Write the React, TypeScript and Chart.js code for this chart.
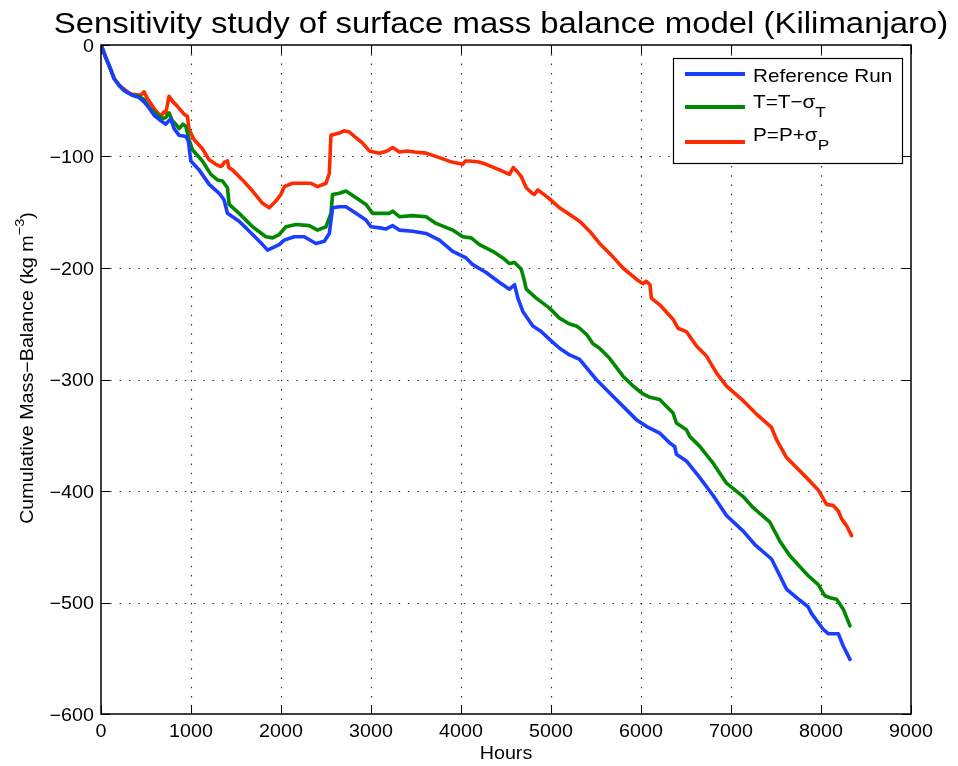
import React, { useEffect, useRef } from 'react';
import { Chart, registerables } from 'chart.js';

Chart.register(...registerables);

// ---------- data ----------
const xTicks = [0, 1000, 2000, 3000, 4000, 5000, 6000, 7000, 8000, 9000];
const yTicks = [0, -100, -200, -300, -400, -500, -600];

const chartTitle = 'Sensitivity study of surface mass balance model (Kilimanjaro)';
const xTitle = 'Hours';
const yTitleMain = 'Cumulative Mass\u2212Balance (kg m';
const yTitleSup = '\u22123';
const yTitleEnd = ')';

const seriesNames = ['Reference Run', 'T=T\u2212\u03c3', 'P=P+\u03c3'];
const seriesSubs = ['', 'T', 'P'];
const seriesColors = ['#1a3dff', '#008800', '#ff2b00'];

const refHours = [0, 52, 108, 145, 200, 260, 348, 420, 478, 530, 590, 650, 720, 775, 812, 868, 942, 970, 998, 1090, 1202, 1313, 1368, 1405, 1535, 1684, 1795, 1851, 1980, 2036, 2147, 2258, 2388, 2481, 2537, 2573, 2648, 2722, 2833, 2944, 3000, 3100, 3167, 3241, 3315, 3463, 3612, 3760, 3908, 4057, 4131, 4279, 4428, 4539, 4595, 4632, 4687, 4798, 4891, 4984, 5095, 5207, 5318, 5503, 5688, 5837, 5948, 6059, 6208, 6319, 6374, 6393, 6504, 6653, 6801, 6950, 7135, 7265, 7450, 7506, 7617, 7765, 7858, 7895, 8024, 8080, 8192, 8247, 8322];
const refValues = [0, -11, -22, -30, -36, -41, -45, -47, -51, -56, -63, -67, -71, -66, -75, -81, -82, -86, -104, -112, -125, -133, -139, -151, -158, -170, -179, -184, -179, -175, -172, -172, -178, -176, -169, -146, -145, -145, -151, -157, -163, -164, -165, -162, -166, -167, -169, -175, -185, -191, -197, -204, -213, -219, -215, -227, -239, -252, -257, -264, -272, -278, -282, -300, -315, -327, -336, -342, -348, -357, -360, -367, -373, -388, -404, -422, -436, -448, -461, -470, -488, -498, -504, -510, -524, -528, -528, -539, -551];

const tHours = [0, 52, 108, 145, 200, 260, 348, 420, 478, 534, 600, 682, 720, 756, 793, 830, 868, 910, 942, 979, 1016, 1127, 1220, 1294, 1350, 1405, 1424, 1535, 1684, 1832, 1906, 1980, 2055, 2166, 2314, 2406, 2500, 2555, 2573, 2648, 2722, 2833, 2944, 3018, 3204, 3241, 3315, 3460, 3612, 3723, 3908, 4019, 4113, 4205, 4353, 4465, 4539, 4595, 4669, 4700, 4725, 4836, 4984, 5095, 5200, 5281, 5318, 5400, 5466, 5540, 5651, 5800, 5900, 6022, 6100, 6208, 6356, 6393, 6504, 6541, 6653, 6801, 6950, 7135, 7246, 7432, 7543, 7654, 7858, 7969, 8043, 8110, 8173, 8247, 8322];
const tValues = [0, -11, -22, -30, -36, -41, -45, -46, -49, -56, -61, -66, -65, -61, -68, -71, -75, -71, -73, -85, -94, -104, -116, -121, -122, -128, -143, -151, -163, -172, -173, -170, -163, -161, -162, -166, -163, -151, -134, -133, -131, -137, -143, -151, -151, -149, -154, -153, -154, -160, -166, -172, -173, -179, -185, -191, -196, -195, -201, -210, -219, -227, -236, -245, -250, -252, -254, -260, -268, -272, -281, -297, -305, -313, -316, -318, -330, -339, -345, -351, -360, -375, -393, -405, -415, -428, -445, -458, -476, -484, -494, -496, -497, -506, -521];

const pHours = [0, 52, 108, 145, 200, 330, 442, 478, 515, 590, 664, 700, 720, 756, 800, 849, 923, 960, 979, 1035, 1127, 1202, 1276, 1330, 1350, 1370, 1405, 1420, 1461, 1572, 1684, 1795, 1869, 1943, 1999, 2036, 2128, 2239, 2333, 2406, 2500, 2537, 2555, 2648, 2700, 2760, 2815, 2907, 2982, 3093, 3180, 3241, 3315, 3400, 3482, 3612, 3760, 3900, 4019, 4050, 4094, 4200, 4279, 4428, 4539, 4580, 4620, 4669, 4725, 4790, 4817, 4854, 4920, 4984, 5095, 5207, 5318, 5429, 5540, 5688, 5800, 5948, 6020, 6059, 6100, 6115, 6208, 6356, 6411, 6504, 6616, 6727, 6838, 6950, 7135, 7283, 7450, 7506, 7617, 7839, 7969, 8062, 8136, 8192, 8229, 8284, 8340];
const pValues = [0, -11, -22, -30, -36, -44, -45, -42, -48, -57, -64, -60, -61, -46, -51, -55, -62, -64, -76, -85, -93, -103, -107, -109, -108, -105, -104, -110, -112, -121, -131, -142, -146, -140, -134, -127, -124, -124, -124, -127, -124, -115, -81, -79, -77, -78, -82, -88, -95, -97, -95, -92, -96, -95, -96, -97, -101, -105, -107, -104, -104, -105, -107, -112, -116, -110, -113, -118, -128, -133, -134, -130, -134, -138, -146, -152, -158, -167, -178, -190, -200, -210, -214, -212, -215, -227, -233, -246, -254, -257, -270, -279, -294, -306, -319, -331, -343, -354, -370, -388, -399, -412, -413, -418, -425, -431, -440];

// ---------- helpers ----------
const FONT = '"Liberation Sans", Arial, Helvetica, sans-serif';
const SX = 1.12;
const TEXT_SIZE = 17.6;

type Seg = { t: string; size: number; dy: number };

function richWidth(ctx: CanvasRenderingContext2D, segs: Seg[]) {
  let w = 0;
  for (const s of segs) {
    ctx.font = `${s.size}px ${FONT}`;
    w += ctx.measureText(s.t).width * SX;
  }
  return w;
}

function drawRich(ctx: CanvasRenderingContext2D, segs: Seg[], x: number, y: number, align: 'left' | 'center' | 'right') {
  const w = richWidth(ctx, segs);
  let cx = align === 'center' ? x - w / 2 : align === 'right' ? x - w : x;
  ctx.textAlign = 'left';
  ctx.textBaseline = 'alphabetic';
  ctx.fillStyle = '#000';
  for (const s of segs) {
    ctx.font = `${s.size}px ${FONT}`;
    const sw = ctx.measureText(s.t).width * SX;
    ctx.save();
    ctx.translate(cx, y + s.dy);
    ctx.scale(SX, 1);
    ctx.fillText(s.t, 0, 0);
    ctx.restore();
    cx += sw;
  }
}

function fmtTick(v: number) {
  return v < 0 ? '\u2212' + Math.abs(v) : String(v);
}

const decorPlugin = {
  id: 'matlabDecor',
  beforeDatasetsDraw(chart: any) {
    const { ctx, chartArea: a, scales } = chart;
    ctx.save();
    ctx.strokeStyle = 'rgba(0,0,0,0.8)';
    ctx.lineWidth = 1.2;
    ctx.setLineDash([1.5, 7.8]);
    for (const v of xTicks) {
      if (v === xTicks[0] || v === xTicks[xTicks.length - 1]) continue;
      const px = Math.round(scales.x.getPixelForValue(v)) + 0.5;
      ctx.beginPath();
      ctx.moveTo(px, a.top);
      ctx.lineTo(px, a.bottom);
      ctx.stroke();
    }
    for (const v of yTicks) {
      if (v === yTicks[0] || v === yTicks[yTicks.length - 1]) continue;
      const py = Math.round(scales.y.getPixelForValue(v)) + 0.5;
      ctx.beginPath();
      ctx.moveTo(a.left, py);
      ctx.lineTo(a.right, py);
      ctx.stroke();
    }
    ctx.restore();
  },
  afterDatasetsDraw(chart: any) {
    const { ctx, chartArea: a, scales } = chart;
    ctx.save();
    ctx.setLineDash([]);
    ctx.strokeStyle = '#000';
    ctx.lineWidth = 1.5;
    ctx.strokeRect(a.left, a.top, a.right - a.left, a.bottom - a.top);
    const tl = 9;
    ctx.lineWidth = 1;
    for (const v of xTicks) {
      const px = Math.round(scales.x.getPixelForValue(v)) + 0.5;
      ctx.beginPath();
      ctx.moveTo(px, a.bottom);
      ctx.lineTo(px, a.bottom - tl);
      ctx.moveTo(px, a.top);
      ctx.lineTo(px, a.top + tl);
      ctx.stroke();
    }
    for (const v of yTicks) {
      const py = Math.round(scales.y.getPixelForValue(v)) + 0.5;
      ctx.beginPath();
      ctx.moveTo(a.left, py);
      ctx.lineTo(a.left + tl, py);
      ctx.moveTo(a.right, py);
      ctx.lineTo(a.right - tl, py);
      ctx.stroke();
    }
    ctx.restore();
  },
  afterDraw(chart: any) {
    const { ctx, chartArea: a, scales } = chart;
    ctx.save();
    // tick labels
    for (const v of xTicks) {
      const px = scales.x.getPixelForValue(v);
      drawRich(ctx, [{ t: fmtTick(v), size: TEXT_SIZE, dy: 0 }], px, a.bottom + 23, 'center');
    }
    for (const v of yTicks) {
      const py = scales.y.getPixelForValue(v);
      drawRich(ctx, [{ t: fmtTick(v), size: TEXT_SIZE, dy: 0 }], a.left - 7, py + 6.5, 'right');
    }
    // title
    drawRich(ctx, [{ t: chartTitle, size: 29.4, dy: 0 }], 501, 33, 'center');
    // x title
    drawRich(ctx, [{ t: xTitle, size: TEXT_SIZE, dy: 0 }], (a.left + a.right) / 2, 759, 'center');
    // y title
    ctx.save();
    ctx.translate(33, 368);
    ctx.rotate(-Math.PI / 2);
    drawRich(
      ctx,
      [
        { t: yTitleMain, size: TEXT_SIZE, dy: 0 },
        { t: yTitleSup, size: 13, dy: -9 },
        { t: yTitleEnd, size: TEXT_SIZE, dy: 0 },
      ],
      0,
      0,
      'center'
    );
    ctx.restore();
    // legend
    const lx = 673, ly = 58, lw = 229, lh = 105;
    ctx.fillStyle = '#fff';
    ctx.fillRect(lx, ly, lw, lh);
    ctx.strokeStyle = '#000';
    ctx.lineWidth = 1.2;
    ctx.strokeRect(lx + 0.5, ly + 0.5, lw, lh);
    const lineYs = [74, 107, 142];
    const baseYs = [82, 108, 141];
    for (let i = 0; i < seriesNames.length; i++) {
      ctx.strokeStyle = seriesColors[i];
      ctx.lineWidth = 4;
      ctx.beginPath();
      ctx.moveTo(685, lineYs[i]);
      ctx.lineTo(745, lineYs[i]);
      ctx.stroke();
      const segs: Seg[] = [{ t: seriesNames[i], size: 18.5, dy: 0 }];
      if (seriesSubs[i]) segs.push({ t: seriesSubs[i], size: 15.5, dy: 9 });
      drawRich(ctx, segs, 753, baseYs[i], 'left');
    }
    ctx.restore();
  },
};

function pts(h: number[], v: number[]) {
  return h.map((x, i) => ({ x, y: v[i] }));
}

export default function App() {
  const ref = useRef<HTMLCanvasElement | null>(null);
  useEffect(() => {
    document.body.style.margin = '0';
    const canvas = ref.current;
    if (!canvas) return;
    const chart = new Chart(canvas, {
      type: 'line',
      data: {
        datasets: [
          { label: seriesNames[0], data: pts(refHours, refValues), borderColor: seriesColors[0] },
          { label: seriesNames[1] + seriesSubs[1], data: pts(tHours, tValues), borderColor: seriesColors[1] },
          { label: seriesNames[2] + seriesSubs[2], data: pts(pHours, pValues), borderColor: seriesColors[2] },
        ].map((d) => ({
          ...d,
          borderWidth: 3.6,
          pointRadius: 0,
          fill: false,
          tension: 0,
          borderJoinStyle: 'round' as const,
          borderCapStyle: 'round' as const,
        })),
      },
      options: {
        responsive: false,
        animation: false,
        parsing: false as any,
        layout: { padding: { top: 45, right: 47, left: 0, bottom: 0 } },
        plugins: {
          legend: { display: false },
          title: { display: false },
          tooltip: { enabled: false },
        },
        scales: {
          x: {
            type: 'linear',
            min: xTicks[0],
            max: xTicks[xTicks.length - 1],
            afterBuildTicks: (s: any) => {
              s.ticks = xTicks.map((v) => ({ value: v }));
            },
            afterFit: (s: any) => {
              s.height = 52;
            },
            ticks: { display: false },
            grid: { display: false, drawTicks: false },
            border: { display: false },
          },
          y: {
            type: 'linear',
            min: yTicks[yTicks.length - 1],
            max: yTicks[0],
            afterBuildTicks: (s: any) => {
              s.ticks = yTicks.slice().reverse().map((v) => ({ value: v }));
            },
            afterFit: (s: any) => {
              s.width = 101;
            },
            ticks: { display: false },
            grid: { display: false, drawTicks: false },
            border: { display: false },
          },
        },
      },
      plugins: [decorPlugin],
    });
    return () => chart.destroy();
  }, []);
  return (
    <div style={{ width: 958, height: 766, position: 'relative', background: '#fff' }}>
      <canvas ref={ref} width={958} height={766} style={{ display: 'block' }} />
    </div>
  );
}
